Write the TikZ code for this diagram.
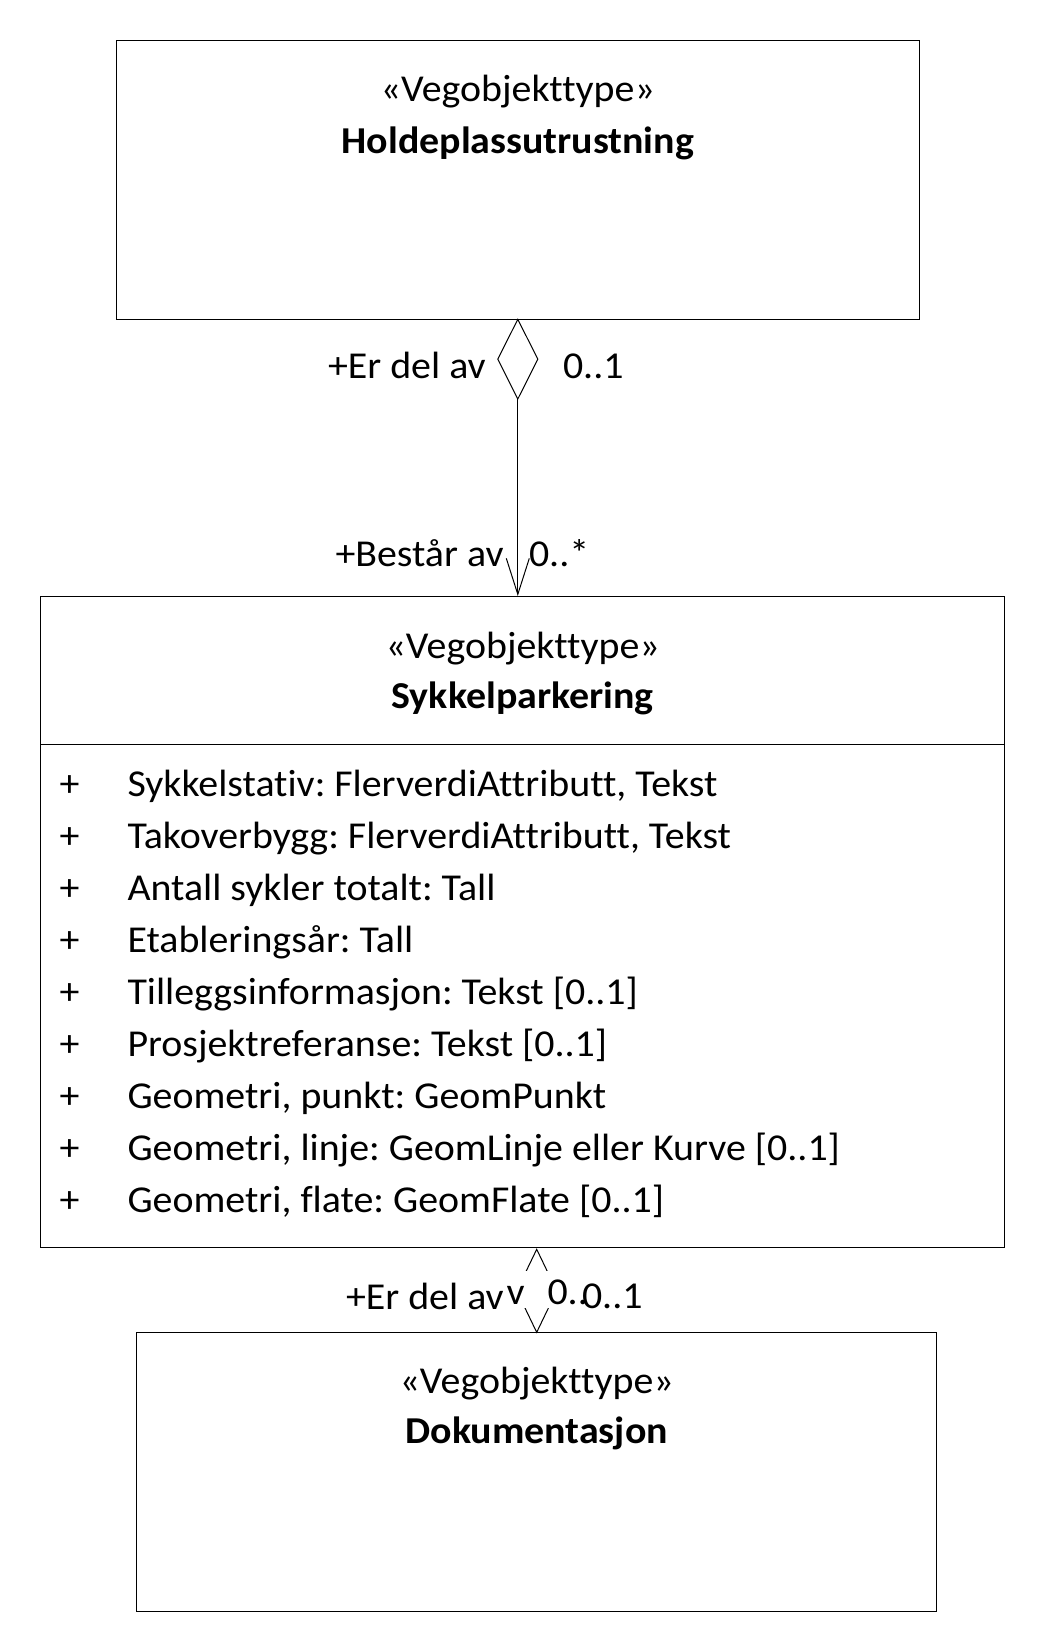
\documentclass[tikz,border=0pt]{standalone}
\usepackage{fontspec}
\setmainfont{Carlito}[Ligatures={NoCommon,NoRequired}, FakeStretch=1.05]
\usetikzlibrary{arrows.meta,shapes.geometric}
\begin{document}
\frenchspacing
\begin{tikzpicture}[x=1pt,y=-1pt,
  every node/.style={inner sep=0pt, outer sep=0pt},
  classbox/.style={draw=black, line width=1pt, anchor=north west},
  txt/.style={font=\fontsize{38}{44}\selectfont},
  stereo/.style={txt, anchor=base},
  cname/.style={font=\fontsize{38}{44}\selectfont\bfseries, anchor=base},
  attr/.style={txt, anchor=base west},
  lbl/.style={txt, anchor=base west},
  conn/.style={draw=black, line width=1pt},
]
\useasboundingbox (0,0) rectangle (1044,1652);

% Holdeplassutrustning
\node[classbox, minimum width=803.6pt, minimum height=279.3pt] (hold) at (116,40) {};
\node[stereo] (holdS) at (517.8,101.7) {«Vegobjekttype»};
\node[cname] (holdN) at (517.8,153) {Holdeplassutrustning};

% Sykkelparkering
\node[classbox, minimum width=964pt, minimum height=651.3pt] (syk) at (40.7,596) {};
\node[stereo] (sykS) at (522.7,658.3) {«Vegobjekttype»};
\node[cname] (sykN) at (522.7,708.3) {Sykkelparkering};
\draw[line width=1pt] (syk.west |- 0,744.3) coordinate (sepL) -- (syk.east |- 0,744.3) coordinate (sepR);

\foreach \t [count=\i from 0] in {
  {Sykkelstativ: FlerverdiAttributt, Tekst},
  {Takoverbygg: FlerverdiAttributt, Tekst},
  {Antall sykler totalt: Tall},
  {Etableringsår: Tall},
  {Tilleggsinformasjon: Tekst [0..1]},
  {Prosjektreferanse: Tekst [0..1]},
  {Geometri, punkt: GeomPunkt},
  {Geometri, linje: GeomLinje eller Kurve [0..1]},
  {Geometri, flate: GeomFlate [0..1]}} {
  \node[attr] (p\i) at (59.5,796.7+51.95*\i) {+};
  \node[attr] (a\i) at (127.5,796.7+51.95*\i) {\t};
}

% Dokumentasjon
\node[classbox, minimum width=800pt, minimum height=278.7pt] (doc) at (136.7,1332.3) {};
\node[stereo] (docS) at (536.7,1393.3) {«Vegobjekttype»};
\node[cname] (docN) at (536.7,1443.3) {Dokumentasjon};

% top association: aggregation diamond at Holdeplassutrustning, open arrow to Sykkelparkering
\node[conn, shape=diamond, minimum width=40pt, minimum height=79.7pt, anchor=north] (dia1) at (hold.south) {};
\draw[conn, -{Straight Barb[length=36pt,width=23pt,line width=1pt]}] (dia1.south) -- (dia1.south |- syk.north);

\node[lbl] (l1) at (328,378.3) {+Er del av};
\node[lbl] (l2) at (563,378.3) {0..1};
\node[lbl] (l3) at (335.5,566) {+Består av};
\node[lbl] (l4) at (529,566) {0..*};

% bottom association
\node[conn, shape=diamond, minimum width=40pt, minimum height=83pt, anchor=south] (dia2) at (doc.north) {};

\node[lbl, fill=white, inner xsep=42.5pt, text height=33pt, text depth=4pt] (l7) at (505,1304) {0..};
\node[lbl] (l5) at (346,1309) {+Er del av};
\node[lbl] (l6) at (506.5,1304) {v};
\node[lbl] (l8) at (582,1308) {0..1};
\end{tikzpicture}
\end{document}
